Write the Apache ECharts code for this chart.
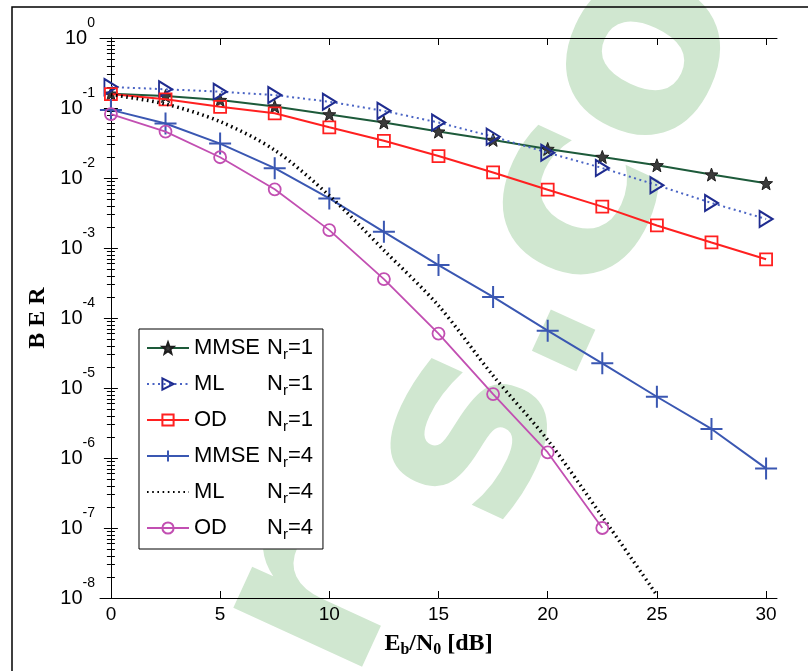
<!DOCTYPE html>
<html>
<head>
<meta charset="utf-8">
<script src="https://cdn.jsdelivr.net/npm/echarts@6/dist/echarts.min.js"></script>
<style>
  html, body { margin: 0; padding: 0; background: #fff; }
  #chart { width: 808px; height: 671px; }
</style>
</head>
<body>
<div id="chart"></div>
<script>
// Eb/N0 sample points (dB)
const snr = [0, 2.5, 5, 7.5, 10, 12.5, 15, 17.5, 20, 22.5, 25, 27.5, 30];
const xTicks = [0, 5, 10, 15, 20, 25, 30];

// BER curves, one receive antenna
const berMmse1 = [0.16, 0.148, 0.13, 0.105, 0.081, 0.062, 0.046, 0.035, 0.026, 0.020, 0.0152, 0.0112, 0.0084];
const berMl1   = [0.20, 0.185, 0.171, 0.153, 0.123, 0.091, 0.062, 0.039, 0.023, 0.0139, 0.0079, 0.0044, 0.0026];
const berOd1   = [0.158, 0.133, 0.104, 0.084, 0.053, 0.034, 0.0206, 0.012, 0.0068, 0.0039, 0.0021, 0.0012, 0.00069];

// BER curves, four receive antennas
const berMmse4 = [0.094, 0.06, 0.031, 0.0138, 0.0051, 0.0017, 0.00057, 0.0002, 6.6e-5, 2.25e-5, 7.5e-6, 2.6e-6, 7.1e-7];
const berMl4   = [0.155, 0.114, 0.064, 0.025, 0.0056, 9.3e-4, 1.5e-4, 1.5e-5, 1.8e-6, 1.45e-7, 1.1e-8];
const berOd4   = [0.082, 0.046, 0.0198, 0.0069, 0.0018, 0.00036, 6.0e-5, 8.2e-6, 1.2e-6, 1.0e-7];

// legend entries: detector name and number of receive antennas
const legendDetector = ['MMSE', 'ML', 'OD', 'MMSE', 'ML', 'OD'];
const legendNr = ['1', '1', '1', '4', '4', '4'];
const seriesIds = ['MMSE-1', 'ML-1', 'OD-1', 'MMSE-4', 'ML-4', 'OD-4'];

function pairs(vals) {
  return vals.map((v, i) => [snr[i], v]);
}

// five-pointed star marker
function starPath() {
  let d = '';
  for (let i = 0; i < 10; i++) {
    const r = i % 2 ? 4.2 : 10;
    const a = -Math.PI / 2 + i * Math.PI / 5;
    d += (i ? 'L' : 'M') + (r * Math.cos(a)).toFixed(2) + ',' + (r * Math.sin(a)).toFixed(2);
  }
  return 'path://' + d + 'Z';
}
const plusPath = 'path://M10,0L10,20M0,10L20,10';
const rightTriPath = 'path://M0,0L17,10L0,20Z';

const FONT = 'Liberation Sans';
const SERIF = 'Liberation Serif';

// diagonal background lettering
const wmFont = 'bold 259px "DejaVu Sans"';
const wmAngle = 65.4 * Math.PI / 180;
const wmCenter = [535, 300];
const wmFill = '#d0e7d0';
function backgroundLettering() {
  const ctx = document.createElement('canvas').getContext('2d');
  ctx.font = wmFont;
  const full = ctx.measureText('rs.co').width;
  const rWidth = ctx.measureText('r').width;
  const ux = Math.cos(wmAngle), uy = -Math.sin(wmAngle);
  const sx = wmCenter[0] - ux * full / 2, sy = wmCenter[1] - uy * full / 2;
  const base = { type: 'text', silent: true, z: -10, rotation: wmAngle };
  const style = { font: wmFont, fill: wmFill, align: 'left', verticalAlign: 'middle' };
  return [
    Object.assign({}, base, {
      x: sx + ux * rWidth, y: sy + uy * rWidth,
      style: Object.assign({}, style, { text: 's.co' })
    }),
    Object.assign({}, base, {
      x: sx - 95, y: sy + 35,
      style: Object.assign({}, style, { text: 'r' })
    })
  ];
}

const tickStyle = { color: '#000', width: 1 };
const logAxisBase = {
  type: 'log',
  logBase: 10,
  min: 1e-8,
  max: 1,
  splitNumber: 8,
  axisLine: { show: true, lineStyle: { color: '#000', width: 1 } },
  axisTick: { show: true, inside: true, length: 7, lineStyle: tickStyle },
  minorTick: { show: true, splitNumber: 9, length: 4, lineStyle: tickStyle },
  splitLine: { show: false },
  minorSplitLine: { show: false }
};
const xAxisBase = {
  type: 'value',
  min: -0.5,
  max: 30.5,
  axisLine: { show: true, onZero: false, lineStyle: { color: '#000', width: 1 } },
  axisTick: { show: true, inside: true, length: 7, lineStyle: tickStyle, customValues: xTicks },
  splitLine: { show: false }
};

const chart = echarts.init(document.getElementById('chart'), null, { renderer: 'canvas' });

chart.setOption({
  animation: false,
  backgroundColor: '#fff',
  grid: { left: 100, right: 31, top: 38, bottom: 73, containLabel: false, outerBoundsMode: 'none' },
  graphic: backgroundLettering().concat([
    {
      type: 'rect', silent: true, z: 100,
      shape: { x: 12, y: 7, width: 830, height: 700 },
      style: { fill: 'none', stroke: '#000', lineWidth: 1.5 }
    }
  ]),
  xAxis: [
    Object.assign({}, xAxisBase, {
      position: 'bottom',
      name: '{b|E}{s|b}{b|/N}{s|0}{b| [dB]}',
      nameLocation: 'middle',
      nameGap: 32,
      nameTextStyle: {
        rich: {
          b: { fontFamily: SERIF, fontWeight: 'bold', fontSize: 24, color: '#000' },
          s: { fontFamily: SERIF, fontWeight: 'bold', fontSize: 16, color: '#000', padding: [12, 0, 0, 0] }
        }
      },
      axisLabel: {
        show: true, margin: 7, customValues: xTicks,
        fontFamily: FONT, fontSize: 19, color: '#000'
      }
    }),
    Object.assign({}, xAxisBase, {
      position: 'top',
      axisLabel: { show: false }
    })
  ],
  yAxis: [
    Object.assign({}, logAxisBase, {
      position: 'left',
      name: 'B E R',
      nameLocation: 'middle',
      nameGap: 47,
      nameTextStyle: { fontFamily: SERIF, fontWeight: 'bold', fontSize: 24, color: '#000' },
      axisLabel: {
        show: true, margin: 5, showMinLabel: true, showMaxLabel: true,
        formatter: function (v) {
          const e = Math.round(Math.log10(v));
          return '{b|10}{e|' + e + '}';
        },
        rich: {
          b: { fontFamily: FONT, fontSize: 20, color: '#000' },
          e: { fontFamily: FONT, fontSize: 14, color: '#000', padding: [0, 0, 30, 0] }
        }
      }
    }),
    Object.assign({}, logAxisBase, {
      position: 'right',
      axisLabel: { show: false }
    })
  ],
  legend: {
    orient: 'vertical',
    left: 139,
    top: 329,
    data: seriesIds.map(function (id) {
      // the dotted curve has no marker, so its legend sample is line only
      return id === 'ML-4'
        ? { name: id, itemStyle: { color: 'rgba(0,0,0,0)', borderWidth: 0, opacity: 0 } }
        : { name: id };
    }),
    backgroundColor: '#fff',
    borderColor: '#000',
    borderWidth: 1,
    borderRadius: 0,
    padding: [1, 10, 3, 7],
    itemGap: 0,
    itemWidth: 42,
    itemHeight: 14,
    itemTextGap: 4,
    formatter: function (name) {
      const i = seriesIds.indexOf(name);
      return '{a|' + legendDetector[i] + '}{n|N}{s|r}{n|=' + legendNr[i] + '}';
    },
    textStyle: {
      fontFamily: FONT, fontSize: 22, color: '#000', lineHeight: 36,
      rich: {
        a: { fontFamily: FONT, fontSize: 22, color: '#000', width: 73, lineHeight: 36 },
        n: { fontFamily: FONT, fontSize: 22, color: '#000', lineHeight: 36 },
        s: { fontFamily: FONT, fontSize: 15, color: '#000', padding: [14, 0, 0, 0] }
      }
    }
  },
  series: [
    {
      name: 'MMSE-1', type: 'line', data: pairs(berMmse1), showAllSymbol: true,
      symbol: starPath(), symbolSize: 13,
      lineStyle: { color: '#1d5a3a', width: 2 },
      itemStyle: { color: '#3b3b3b', borderColor: '#1e1e1e', borderWidth: 1 },
      z: 3
    },
    {
      name: 'ML-1', type: 'line', data: pairs(berMl1), showAllSymbol: true,
      symbol: rightTriPath, symbolSize: [13, 16],
      lineStyle: { color: '#4a64c4', width: 2, type: [2, 3.5] },
      itemStyle: { color: 'rgba(0,0,0,0)', borderColor: '#1f2c90', borderWidth: 2 },
      z: 4
    },
    {
      name: 'OD-1', type: 'line', data: pairs(berOd1), showAllSymbol: true,
      symbol: 'rect', symbolSize: 12,
      lineStyle: { color: '#ff2020', width: 2 },
      itemStyle: { color: 'rgba(0,0,0,0)', borderColor: '#ff2020', borderWidth: 1.8 },
      z: 5
    },
    {
      name: 'MMSE-4', type: 'line', data: pairs(berMmse4), showAllSymbol: true,
      symbol: plusPath, symbolSize: 22,
      lineStyle: { color: '#3a57b2', width: 2 },
      itemStyle: { color: 'rgba(0,0,0,0)', borderColor: '#3a57b2', borderWidth: 2 },
      z: 6
    },
    {
      name: 'ML-4', type: 'line', data: pairs(berMl4), symbol: 'none', smooth: 0.3,
      lineStyle: { color: '#000', width: 3.5, type: [1.6, 3.6], cap: 'butt' },
      itemStyle: { color: '#000' },
      z: 7
    },
    {
      name: 'OD-4', type: 'line', data: pairs(berOd4), showAllSymbol: true,
      symbol: 'circle', symbolSize: 12,
      lineStyle: { color: '#c24fb2', width: 1.8 },
      itemStyle: { color: 'rgba(0,0,0,0)', borderColor: '#c24fb2', borderWidth: 1.8 },
      z: 8
    }
  ]
});
</script>
</body>
</html>
